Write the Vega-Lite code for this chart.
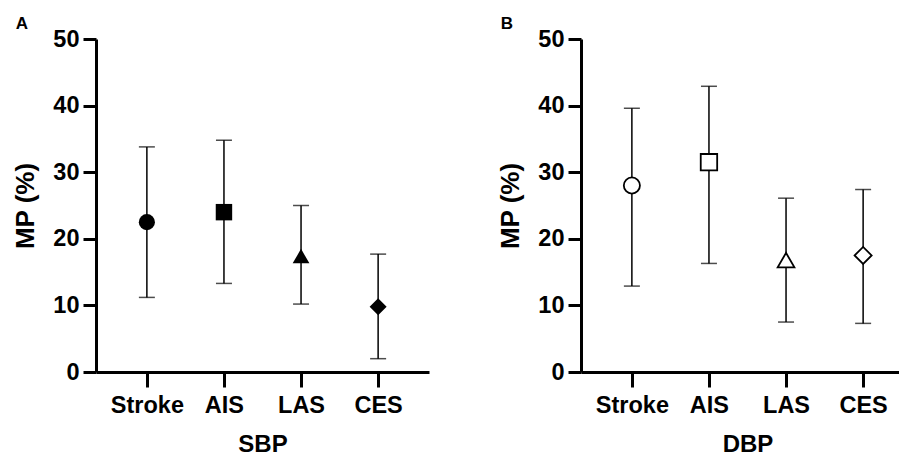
{
  "$schema": "https://vega.github.io/schema/vega-lite/v6.json",
  "background": "white",
  "padding": {"left": 12, "top": 15, "right": 0, "bottom": 0},
  "datasets": {
    "sbp": [
      {"group": "Stroke", "mean": 22.5, "lo": 11.2, "hi": 33.8},
      {"group": "AIS", "mean": 24.0, "lo": 13.3, "hi": 34.8},
      {"group": "LAS", "mean": 17.4, "lo": 10.2, "hi": 25.0},
      {"group": "CES", "mean": 9.8, "lo": 2.0, "hi": 17.7}
    ],
    "dbp": [
      {"group": "Stroke", "mean": 28.0, "lo": 12.9, "hi": 39.6},
      {"group": "AIS", "mean": 31.5, "lo": 16.3, "hi": 42.9},
      {"group": "LAS", "mean": 16.8, "lo": 7.5, "hi": 26.1},
      {"group": "CES", "mean": 17.5, "lo": 7.3, "hi": 27.4}
    ]
  },
  "config": {
    "view": {"stroke": null},
    "font": "Liberation Sans",
    "axis": {
      "domainColor": "black", "domainWidth": 3, "tickColor": "black", "tickWidth": 3,
      "labelColor": "black", "labelFont": "Liberation Sans", "labelFontWeight": "bold", "labelFontSize": 23.5,
      "titleColor": "black", "titleFont": "Liberation Sans", "titleFontWeight": "bold", "titleFontSize": 24,
      "grid": false
    },
    "title": {"font": "Liberation Sans", "fontWeight": "bold", "fontSize": 17, "color": "black", "anchor": "start", "frame": "bounds", "offset": -4, "dx": 3, "dy": 2}
  },
  "spacing": 68,
  "hconcat": [
    {
      "width": 333, "height": 333,
      "title": {"text": "A"},
      "data": {"name": "sbp"},
      "encoding": {
        "x": {"field": "group", "type": "nominal", "sort": ["Stroke", "AIS", "LAS", "CES"],
              "scale": {"type": "point", "padding": 0.66},
              "axis": {"title": "SBP", "labelAngle": 0, "tickSize": 15, "labelPadding": 6, "titlePadding": 16}}
      },
      "layer": [
        {"mark": {"type": "rule", "color": "black", "strokeWidth": 1.5},
         "encoding": {"y": {"field": "lo", "type": "quantitative", "scale": {"domain": [0, 50], "nice": false},
                            "axis": {"title": "MP (%)", "titleFontSize": 26, "values": [0, 10, 20, 30, 40, 50], "tickSize": 13, "labelPadding": 4, "titlePadding": 14}},
                      "y2": {"field": "hi"}}},
        {"mark": {"type": "tick", "color": "black", "thickness": 1.5, "size": 16},
         "encoding": {"y": {"field": "lo", "type": "quantitative", "axis": {"title": "MP (%)"}}}},
        {"mark": {"type": "tick", "color": "black", "thickness": 1.5, "size": 16},
         "encoding": {"y": {"field": "hi", "type": "quantitative", "axis": {"title": "MP (%)"}}}},
        {"mark": {"type": "point", "filled": true, "color": "black", "opacity": 1},
         "encoding": {"y": {"field": "mean", "type": "quantitative", "axis": {"title": "MP (%)"}},
                      "shape": {"field": "group", "type": "nominal", "scale": {"domain": ["Stroke", "AIS", "LAS", "CES"], "range": ["circle", "square", "triangle-up", "diamond"]}, "legend": null},
                      "size": {"field": "group", "type": "nominal", "scale": {"domain": ["Stroke", "AIS", "LAS", "CES"], "range": [260, 290, 270, 180]}, "legend": null}}}
      ]
    },
    {
      "width": 333, "height": 333,
      "title": {"text": "B"},
      "data": {"name": "dbp"},
      "encoding": {
        "x": {"field": "group", "type": "nominal", "sort": ["Stroke", "AIS", "LAS", "CES"],
              "scale": {"type": "point", "padding": 0.66},
              "axis": {"title": "DBP", "labelAngle": 0, "tickSize": 15, "labelPadding": 6, "titlePadding": 16}}
      },
      "layer": [
        {"mark": {"type": "rule", "color": "black", "strokeWidth": 1.5},
         "encoding": {"y": {"field": "lo", "type": "quantitative", "scale": {"domain": [0, 50], "nice": false},
                            "axis": {"title": "MP (%)", "titleFontSize": 26, "values": [0, 10, 20, 30, 40, 50], "tickSize": 13, "labelPadding": 4, "titlePadding": 14}},
                      "y2": {"field": "hi"}}},
        {"mark": {"type": "tick", "color": "black", "thickness": 1.5, "size": 16},
         "encoding": {"y": {"field": "lo", "type": "quantitative", "axis": {"title": "MP (%)"}}}},
        {"mark": {"type": "tick", "color": "black", "thickness": 1.5, "size": 16},
         "encoding": {"y": {"field": "hi", "type": "quantitative", "axis": {"title": "MP (%)"}}}},
        {"mark": {"type": "point", "fill": "white", "stroke": "black", "strokeWidth": 1.8, "opacity": 1, "fillOpacity": 1},
         "encoding": {"y": {"field": "mean", "type": "quantitative", "axis": {"title": "MP (%)"}},
                      "shape": {"field": "group", "type": "nominal", "scale": {"domain": ["Stroke", "AIS", "LAS", "CES"], "range": ["circle", "square", "triangle-up", "diamond"]}, "legend": null},
                      "size": {"field": "group", "type": "nominal", "scale": {"domain": ["Stroke", "AIS", "LAS", "CES"], "range": [280, 260, 300, 260]}, "legend": null}}}
      ]
    }
  ]
}
